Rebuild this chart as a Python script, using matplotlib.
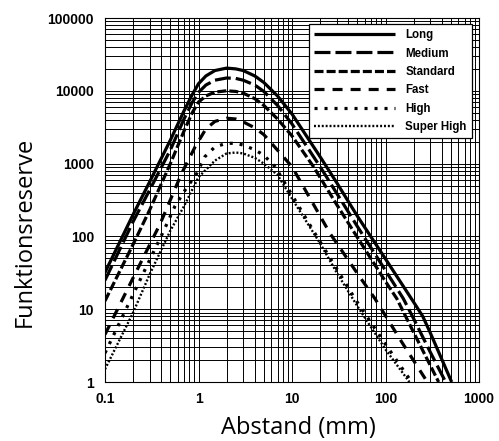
import matplotlib
matplotlib.use("Agg")
import matplotlib.pyplot as plt
from matplotlib.ticker import FixedLocator, LogLocator, NullFormatter, FixedFormatter

plt.rcParams['lines.scale_dashes'] = False

# Funktionsreserve vs. Abstand for each sensitivity setting
long_x = [0.1, 0.2, 0.3, 0.5, 0.7, 0.85, 1, 1.2, 1.5, 2, 2.5, 3, 4, 5, 7, 10, 20, 30, 50, 100, 200, 250, 300, 510]
long_y = [32, 200, 560, 2100, 5300, 8700, 12500, 16000, 19000, 20500, 20000, 19000, 16000, 13000, 8500, 4800, 1240, 550, 190, 49, 12.5, 8, 4.8, 1]

medium_x = [0.1, 0.2, 0.3, 0.5, 0.7, 0.85, 1, 1.2, 1.5, 2, 2.5, 3, 4, 5, 7, 10, 20, 30, 50, 100, 155, 200, 300, 440]
medium_y = [25, 160, 433, 1540, 4100, 6800, 9500, 12000, 14000, 15000, 14800, 14000, 12000, 9800, 6300, 3500, 906, 393, 137, 34, 14, 7.4, 2.6, 1]

standard_x = [0.1, 0.2, 0.3, 0.5, 0.7, 0.85, 1, 1.2, 1.5, 2, 2.5, 3, 4, 5, 7, 10, 17, 30, 47, 100, 132, 200, 370]
standard_y = [13, 78, 230, 1000, 2800, 4900, 7000, 8500, 9600, 10000, 9800, 9300, 7800, 6300, 4100, 2400, 906, 275, 110, 24, 14, 4.8, 1]

fast_x = [0.1, 0.2, 0.39, 0.66, 0.92, 1.2, 1.5, 2, 2.5, 3, 4, 5, 7, 10, 25.5, 50, 77, 150, 280]
fast_y = [4.5, 27, 150, 735, 1700, 3000, 3800, 4200, 4100, 3750, 3100, 2500, 1530, 906, 110, 31, 14, 3.5, 1]

high_x = [0.1, 0.2, 0.42, 0.56, 0.72, 0.96, 1.17, 1.5, 2, 2.5, 3, 4, 5, 6.6, 10, 17.6, 30, 47, 100, 190]
high_y = [2.5, 16, 116, 260, 434, 735, 1245, 1700, 1900, 1900, 1800, 1550, 1300, 906, 370, 110, 36, 14, 3.3, 1]

superhigh_x = [0.1, 0.2, 0.3, 0.5, 0.7, 1, 1.5, 2, 2.5, 3, 4, 5, 7, 10, 20, 30, 50, 100, 180]
superhigh_y = [1.5, 9, 30, 120, 260, 650, 1100, 1380, 1420, 1380, 1200, 1000, 700, 330, 80, 32, 11, 2.8, 1]

labels = ["Long", "Medium", "Standard", "Fast", "High", "Super High"]

x_ticks = [0.1, 1, 10, 100, 1000]
x_tick_labels = ["0.1", "1", "10", "100", "1000"]
y_ticks = [1, 10, 100, 1000, 10000, 100000]
y_tick_labels = ["1", "10", "100", "1000", "10000", "100000"]

bold_font = ['Liberation Sans Narrow', 'Liberation Sans', 'DejaVu Sans']
label_font = ['Open Sans', 'DejaVu Sans']

fig = plt.figure(figsize=(4.99, 4.41), dpi=100)
ax = fig.add_axes([105 / 499, 59 / 441, 374 / 499, 364 / 441])
ax.set_xscale('log')
ax.set_yscale('log')
ax.set_xlim(0.1, 1000)
ax.set_ylim(1, 100000)

# dense log grid
ax.xaxis.set_minor_locator(LogLocator(base=10, subs=range(2, 10)))
ax.yaxis.set_minor_locator(LogLocator(base=10, subs=range(2, 10)))
ax.xaxis.set_minor_formatter(NullFormatter())
ax.yaxis.set_minor_formatter(NullFormatter())
ax.grid(True, which='both', color='black', linewidth=0.7)
ax.set_axisbelow(True)

styles = [
    dict(linestyle='-', linewidth=2.3),
    dict(linestyle=(0, (11.5, 3.6)), linewidth=2.3),
    dict(linestyle=(0, (6.5, 2.2)), linewidth=2.3),
    dict(linestyle=(0, (7.2, 5.8)), linewidth=2.3),
    dict(linestyle=(0, (2.2, 5.0)), linewidth=2.3),
    dict(linestyle=(0, (1.4, 1.4)), linewidth=1.7),
]
series = [(long_x, long_y), (medium_x, medium_y), (standard_x, standard_y),
          (fast_x, fast_y), (high_x, high_y), (superhigh_x, superhigh_y)]
for (xs, ys), lab, st in zip(series, labels, styles):
    ax.plot(xs, ys, color='black', label=lab, dash_capstyle='butt',
            solid_capstyle='butt', solid_joinstyle='round', **st)

ax.xaxis.set_major_locator(FixedLocator(x_ticks))
ax.xaxis.set_major_formatter(FixedFormatter(x_tick_labels))
ax.yaxis.set_major_locator(FixedLocator(y_ticks))
ax.yaxis.set_major_formatter(FixedFormatter(y_tick_labels))
ax.tick_params(which='both', length=0)
ax.tick_params(axis='x', pad=7)
ax.tick_params(axis='y', pad=8)
for t in ax.get_xticklabels() + ax.get_yticklabels():
    t.set_fontfamily(bold_font)
    t.set_fontweight('bold')
    t.set_fontsize(10)

for s in ax.spines.values():
    s.set_color('black')
    s.set_linewidth(0.8)

leg = ax.legend(loc='upper right', bbox_to_anchor=(0.981, 0.9835),
                handlelength=7.0, handletextpad=0.9, labelspacing=0.55,
                borderpad=0.45, borderaxespad=0, fancybox=False,
                framealpha=1, edgecolor='black',
                prop=dict(family=bold_font, weight='bold', size=8.3))
leg.get_frame().set_linewidth(0.9)

fig.text(298 / 499, 1 - 428 / 441, "Abstand (mm)", ha='center', va='center',
         fontsize=17, family=label_font)
fig.text(25 / 499, 1 - 232 / 441, "Funktionsreserve", ha='center', va='center',
         rotation=90, fontsize=17, family=label_font)

fig.savefig("out.png", dpi=100)
